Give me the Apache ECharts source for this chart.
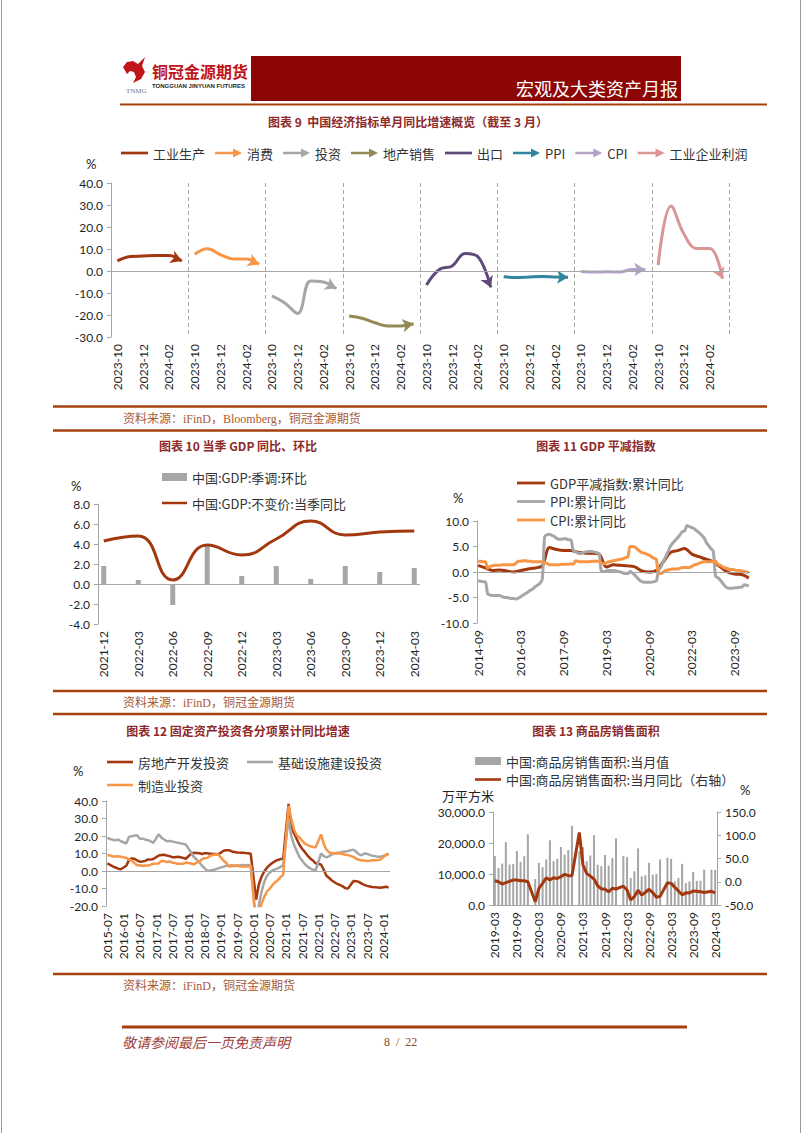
<!DOCTYPE html>
<html><head><meta charset="utf-8">
<script src="https://cdn.jsdelivr.net/npm/echarts/dist/echarts.min.js"></script>
<style>html,body{margin:0;padding:0;background:#fff}#c{width:802px;height:1133px}</style>
</head><body><div id="c"></div><script>
// ---------------- DATA ----------------
// Chart 9: single-month YoY, 2023-10 .. 2024-03, one block per indicator
const c9Months = ['2023-10','2023-11','2023-12','2024-01','2024-02','2024-03'];
const c9Names = ['工业生产','消费','投资','地产销售','出口','PPI','CPI','工业企业利润'];
const c9IP      = [4.6, 6.6, 6.8, 7.0, 7.0, 4.5];
const c9Retail  = [7.6, 10.1, 7.4, 5.5, 5.5, 3.1];
const c9FAI     = [-11.3, -14.5, -19.3, -4.5, -5.0, -8.0];
const c9Realty  = [-20.5, -21.5, -23.5, -25.0, -25.0, -24.0];
const c9Export  = [-6.4, 0.7, 2.3, 8.0, 6.5, -7.5];
const c9PPI     = [-2.6, -3.0, -2.7, -2.5, -2.7, -2.8];
const c9CPI     = [-0.2, -0.5, -0.3, -0.5, 0.7, 0.7];
const c9Profit  = [2.7, 29.5, 16.8, 10.2, 10.2, -3.5];

// Chart 10: GDP quarterly (2021-12 .. 2024-03), on a monthly axis
const c10QoQ = [1.8, 0.4, -2.1, 3.8, 0.8, 1.8, 0.5, 1.8, 1.2, 1.6];
const c10YoY = [4.3, 4.8, 0.4, 3.9, 2.9, 4.5, 6.3, 4.9, 5.2, 5.3];

// Chart 11: monthly 2014-09 .. 2024-03 ; deflator quarterly
const c11Deflator = [1.3,0.8, 0.3,0.4,0.2,0.0, 0.3,0.6,0.8,1.2, 4.8,4.4,4.2,4.2, 3.9,3.7,3.7,3.5,
  1.0,1.4,1.3,1.2, 1.0,0.2,0.0,0.3, 2.0,3.8,4.2,4.6, 3.5,3.0,2.5,2.0, 1.0,0.0,-0.4,-0.5, -1.2];
const c11PPI = [-1.7,-1.8,-1.9,-1.9,
  -4.3,-4.5,-4.6,-4.6,-4.6,-4.6,-4.8,-5.0,-5.0,-5.1,-5.2,-5.2,
  -5.3,-5.1,-4.8,-4.5,-4.2,-3.9,-3.6,-3.3,-2.9,-2.6,-2.2,-1.4,
  6.9,7.3,7.4,7.2,7.0,6.6,6.4,6.4,6.5,6.5,6.3,6.3,
  4.3,4.0,3.7,3.6,3.8,3.9,4.0,4.0,4.0,3.9,3.8,3.5,
  0.1,0.1,0.2,0.3,0.3,0.3,0.2,0.1,0.0,-0.2,-0.3,-0.3,
  0.1,-0.2,-0.6,-1.1,-1.6,-1.9,-2.0,-2.0,-2.0,-2.0,-1.9,-1.8,
  0.3,1.0,2.1,3.0,4.0,5.1,5.7,6.2,6.7,7.3,7.9,8.1,
  9.1,8.9,8.7,8.5,8.1,7.7,7.3,6.8,5.9,5.2,4.6,4.1,
  -0.8,-1.1,-1.6,-2.2,-2.8,-3.1,-3.2,-3.2,-3.1,-3.1,-3.0,-3.0,
  -2.5,-2.6,-2.7];
const c11CPI = [2.1,2.1,2.0,2.0,
  0.8,1.1,1.2,1.3,1.3,1.3,1.4,1.4,1.4,1.4,1.4,1.4,
  1.8,2.1,2.1,2.2,2.2,2.1,2.1,2.0,2.0,2.0,2.0,2.0,
  1.8,1.7,1.4,1.4,1.4,1.4,1.4,1.5,1.5,1.5,1.5,1.6,
  1.5,2.2,2.1,2.0,2.0,2.0,2.0,2.0,2.1,2.1,2.1,2.1,
  1.7,1.6,1.8,2.0,2.1,2.2,2.3,2.4,2.5,2.6,2.8,2.9,
  5.0,5.0,4.9,4.5,4.1,3.8,3.7,3.5,3.3,3.0,2.7,2.5,
  -0.3,-0.3,0.0,0.3,0.4,0.5,0.6,0.6,0.6,0.7,0.9,0.9,
  0.9,0.9,1.1,1.4,1.5,1.7,1.9,2.0,2.0,2.0,2.0,2.0,
  2.1,1.5,1.3,1.0,0.8,0.7,0.5,0.5,0.4,0.3,0.3,0.2,
  0.1,0.0,-0.1];

// Chart 12: cumulative YoY, monthly 2015-07 .. 2024-03 (no January releases)
const c12Realty = [4.3,3.5,2.6,2.0,1.3,1.0,
  null,3.0,6.2,7.2,7.0,6.1,5.3,5.4,5.8,6.6,6.5,6.9,
  null,8.9,9.1,9.3,8.8,8.5,7.9,7.9,8.1,7.8,7.5,7.0,
  null,9.9,10.4,10.3,10.2,9.7,10.2,10.1,9.9,9.7,9.7,9.5,
  null,11.6,11.8,11.9,11.2,10.9,10.6,10.5,10.5,10.3,10.2,9.9,
  null,-16.3,-7.7,-3.3,-0.3,1.9,3.4,4.6,5.6,6.3,6.8,7.0,
  null,38.3,25.6,21.6,18.3,15.0,12.7,10.9,8.8,7.2,6.0,4.4,
  null,3.7,0.7,-2.7,-4.0,-5.4,-6.4,-7.4,-8.0,-8.8,-9.8,-10.0,
  null,-5.7,-5.8,-6.2,-7.2,-7.9,-8.5,-8.8,-9.1,-9.3,-9.4,-9.6,
  null,-9.0,-9.5];
const c12Infra = [18.9,18.3,17.8,17.5,18.0,17.0,
  null,15.7,19.6,19.8,20.1,20.4,18.5,18.5,18.0,17.6,17.0,16.1,
  null,21.0,19.0,18.0,17.0,17.2,16.8,16.5,16.2,15.8,15.5,15.2,
  null,10.5,8.0,6.5,5.0,3.0,1.5,0.0,0.3,0.6,1.0,1.5,
  null,2.5,3.0,3.0,3.3,2.9,3.0,3.2,3.4,3.3,3.5,3.3,
  null,-30.3,-19.7,-11.8,-6.3,-2.7,-1.0,0.3,0.9,1.5,2.3,3.4,
  null,30.0,20.0,15.0,11.5,8.0,6.0,4.0,2.5,1.5,0.8,0.4,
  null,10.0,8.5,7.8,8.5,9.5,10.0,10.4,10.6,11.0,11.2,11.4,
  null,12.2,11.0,9.5,9.0,10.0,9.8,9.2,8.7,8.5,8.2,8.1,
  null,9.0,9.7];
const c12Mfg = [9.1,8.9,8.3,8.3,8.4,8.1,
  null,7.5,6.4,6.0,4.6,3.3,3.3,2.8,3.1,3.1,3.6,4.2,
  null,4.3,5.8,5.6,5.1,5.5,4.8,4.5,4.2,4.1,4.1,4.8,
  null,4.3,3.8,4.8,5.2,6.8,7.3,7.5,8.7,9.1,9.5,9.5,
  null,5.9,4.6,2.5,2.7,3.0,3.3,2.6,2.5,2.6,2.5,3.1,
  null,-31.5,-25.2,-18.8,-14.8,-11.7,-10.2,-8.1,-6.5,-5.3,-3.5,-2.2,
  null,37.3,29.8,23.8,20.4,19.2,17.3,15.7,14.8,14.2,13.7,13.5,
  null,20.9,15.6,12.2,10.6,10.4,9.9,10.0,10.1,9.7,9.3,9.1,
  null,8.1,7.0,6.4,6.0,6.0,5.7,5.9,6.2,6.2,6.3,6.5,
  null,9.4,9.9];

// Chart 13: monthly 2019-03 .. 2024-03
const c13Area = [15760,11960,13370,20330,13040,13260,17390,13910,15760,22830,
  null,8370,13590,12170,14670,20870,14130,14890,18700,16300,17720,25540,
  null,17360,18650,14130,16000,22500,13000,12500,16090,12700,15200,21520,
  null,15760,15430,8700,10870,18260,9240,9570,13590,9780,10000,14670,
  null,15220,14890,7610,8700,13260,7070,7610,10650,7830,7830,11410,
  null,11370,11300];
const c13YoY = [2.2,0.0,-5.0,-2.0,1.0,3.6,3.6,2.0,2.0,0.0,
  null,-43.0,-14.5,-3.6,8.7,3.6,8.7,7.0,10.9,16.0,13.0,13.0,
  null,106.0,36.0,18.0,12.0,6.0,-8.6,-15.5,-15.8,-21.7,-14.0,-15.6,
  null,-9.6,-17.7,-39.0,-31.8,-18.3,-28.9,-22.6,-16.2,-23.2,-33.3,-31.5,
  null,-2.0,-3.5,-11.8,-19.7,-28.1,-23.8,-24.0,-19.8,-20.2,-21.3,-23.0,
  null,-20.5,-23.7];

// ---------------- HELPERS ----------------
function monthsFrom(y, m, n){const o=[];for(let i=0;i<n;i++){const yy=y+Math.floor((m-1+i)/12);const mm=(m-1+i)%12+1;o.push(yy+'-'+String(mm).padStart(2,'0'));}return o;}
function spread(arr, step, n){const o=new Array(n).fill(null);arr.forEach((v,i)=>{o[i*step]=v;});return o;}
const cats9 = []; c9Names.forEach(()=>c9Months.forEach(m=>cats9.push(m)));
const cats10 = monthsFrom(2021,12,28);
const cats11 = monthsFrom(2014,9,115);
const cats12 = monthsFrom(2015,7,105);
const cats13 = monthsFrom(2019,3,61);

const RUST='#A3380F', ORANGE='#F79646', GRAY='#A6A6A6', OLIVE='#948A54', PURPLE='#604A7B',
      TEAL='#31859C', LAV='#B3A2C7', PINK='#D99694', AX='#A6A6A6', TXT='#1f1f1f';
const NUMF='Lato, "Noto Sans", sans-serif';
const CJK='"Noto Sans CJK SC", sans-serif';
const LINE_ICON='path://M0,0L30,0L30,3L0,3Z';
const ARROW_ICON='path://M0,3.6L20,3.6L20,0L30,5L20,10L20,6.4L0,6.4Z';
const zeroLine = {silent:true, symbol:['none','none'], label:{show:false}, lineStyle:{color:AX,type:'solid',width:1}, emphasis:{disabled:true}, data:[{yAxis:0}]};

function catAxis(grid, data, interval, extra){
  return Object.assign({gridIndex:grid, type:'category', data, boundaryGap:true,
    axisLine:{show:false}, axisTick:{show:false}, splitLine:{show:false},
    axisLabel:{interval, rotate:90, fontSize:12, color:TXT, fontFamily:NUMF, margin:7}}, extra||{});
}
function valAxis(grid, min, max, interval, fmt, extra){
  return Object.assign({gridIndex:grid, type:'value', min, max, interval,
    axisLine:{show:true, lineStyle:{color:AX}}, axisTick:{show:true, length:4, lineStyle:{color:AX}},
    splitLine:{show:false},
    axisLabel:{formatter:fmt||(v=>v.toFixed(1)), fontSize:12, color:TXT, fontFamily:NUMF, margin:8}}, extra||{});
}
function legendBase(o){
  return Object.assign({selectedMode:false, itemGap:10, itemWidth:27, itemHeight:10, padding:0,
    itemStyle:{borderWidth:0}, textStyle:{fontSize:13, lineHeight:16, color:'#333', fontFamily:CJK}}, o);
}

// ---------------- CHART 9 series ----------------
const c9Vals=[c9IP,c9Retail,c9FAI,c9Realty,c9Export,c9PPI,c9CPI,c9Profit];
const c9Colors=[RUST,ORANGE,GRAY,OLIVE,PURPLE,TEAL,LAV,PINK];
const c9Icons=[LINE_ICON,ARROW_ICON,ARROW_ICON,ARROW_ICON,LINE_ICON,ARROW_ICON,ARROW_ICON,ARROW_ICON];
function c9Data(g, rot){
  const d=new Array(48).fill(null);
  c9Vals[g].forEach((v,i)=>{d[g*6+i]=v;});
  const last=g*6+5;
  d[last]={value:c9Vals[g][5], symbol:'arrow', symbolSize:[10,11], symbolRotate:rot||0};
  return d;
}
const series=[];
c9Names.forEach((n,g)=>{
  series.push({type:'line', name:n, xAxisIndex:0, yAxisIndex:0, data:c9Data(g,-90), smooth:0.4,
    symbol:'none', showSymbol:true, showAllSymbol:true, connectNulls:false,
    lineStyle:{width:3,color:c9Colors[g]}, itemStyle:{color:c9Colors[g]}, emphasis:{disabled:true},
    markLine: g===0?zeroLine:undefined, z:3});
});
// ---------------- CHART 10 ----------------
series.push({type:'bar', name:'中国:GDP:季调:环比', xAxisIndex:2, yAxisIndex:1, data:spread(c10QoQ,3,28),
  barWidth:5, itemStyle:{color:GRAY}, emphasis:{disabled:true}, markLine:zeroLine});
series.push({type:'line', name:'中国:GDP:不变价:当季同比', xAxisIndex:2, yAxisIndex:1, data:spread(c10YoY,3,28),
  connectNulls:true, smooth:0.5, symbol:'none', lineStyle:{width:3,color:RUST}, itemStyle:{color:RUST}, emphasis:{disabled:true}});
// ---------------- CHART 11 ----------------
series.push({type:'line', name:'GDP平减指数:累计同比', xAxisIndex:3, yAxisIndex:2, data:spread(c11Deflator,3,115),
  connectNulls:true, smooth:0.3, symbol:'none', lineStyle:{width:3,color:RUST}, itemStyle:{color:RUST}, emphasis:{disabled:true}, markLine:zeroLine});
series.push({type:'line', name:'PPI:累计同比', xAxisIndex:3, yAxisIndex:2, data:c11PPI,
  smooth:0.3, symbol:'none', lineStyle:{width:3,color:GRAY}, itemStyle:{color:GRAY}, emphasis:{disabled:true}});
series.push({type:'line', name:'CPI:累计同比', xAxisIndex:3, yAxisIndex:2, data:c11CPI,
  smooth:0.3, symbol:'none', lineStyle:{width:3,color:ORANGE}, itemStyle:{color:ORANGE}, emphasis:{disabled:true}});
// ---------------- CHART 12 ----------------
series.push({type:'line', name:'房地产开发投资', xAxisIndex:4, yAxisIndex:3, data:c12Realty, connectNulls:true,
  symbol:'none', lineStyle:{width:2.5,color:RUST}, itemStyle:{color:RUST}, emphasis:{disabled:true}, markLine:zeroLine});
series.push({type:'line', name:'基础设施建设投资', xAxisIndex:4, yAxisIndex:3, data:c12Infra, connectNulls:true,
  symbol:'none', lineStyle:{width:2.5,color:GRAY}, itemStyle:{color:GRAY}, emphasis:{disabled:true}});
series.push({type:'line', name:'制造业投资', xAxisIndex:4, yAxisIndex:3, data:c12Mfg, connectNulls:true,
  symbol:'none', lineStyle:{width:2.5,color:ORANGE}, itemStyle:{color:ORANGE}, emphasis:{disabled:true}});
// ---------------- CHART 13 ----------------
series.push({type:'bar', name:'中国:商品房销售面积:当月值', xAxisIndex:5, yAxisIndex:4, data:c13Area,
  barWidth:2, itemStyle:{color:GRAY}, emphasis:{disabled:true}});
series.push({type:'line', name:'中国:商品房销售面积:当月同比（右轴）', xAxisIndex:5, yAxisIndex:5, data:c13YoY,
  connectNulls:true, symbol:'none', lineStyle:{width:3,color:RUST}, itemStyle:{color:RUST}, emphasis:{disabled:true}, z:3});

// ---------------- GRAPHICS (page furniture) ----------------
function T(x,y,text,o){return {type:'text', x, y, silent:true, style:Object.assign({text, fill:'#222', fontSize:13, fontFamily:CJK, align:'left', verticalAlign:'middle'}, o||{})};}
function L(x1,y1,x2,y2,stroke,w){return {type:'line', silent:true, shape:{x1,y1,x2,y2}, style:{stroke, lineWidth:w}};}
const SEP='#A4410E', TITLE='#8E2A2A', SRC='#A85A36';
const graphics=[
  L(1.5,0,1.5,1133,'#9a9a9a',1), L(800.5,0,800.5,1133,'#9a9a9a',1),
  // header
  {type:'polygon', silent:true, shape:{points:[[123,67],[127,62],[133,61],[138,64],[145,57],[142,66],[145,72],[141,79],[133,83],[136,77],[134,72],[130,71],[127,74]]}, style:{fill:'#C0141A'}},
  T(152,71,'铜冠金源期货',{fill:'#C0141A', fontSize:16, fontWeight:'bold', fontFamily:'"Noto Sans CJK SC", serif'}),
  T(152,86,'TONGGUAN JINYUAN FUTURES',{fill:'#222', fontSize:6, fontWeight:'bold', fontFamily:'"Liberation Sans", sans-serif'}),
  T(126,91,'TNMG',{fill:'#777', fontSize:7, fontFamily:'"Liberation Serif", serif'}),
  {type:'rect', silent:true, shape:{x:251,y:56,width:430,height:45}, style:{fill:'#8C0606'}},
  T(678,88,'宏观及大类资产月报',{fill:'#fff', fontSize:18, align:'right', fontFamily:CJK}),
  L(120,104.5,767,104.5,SEP,2),
  // chart 9
  T(408,121,'图表 9  中国经济指标单月同比增速概览（截至 3 月）',{fill:TITLE, fontSize:12, fontWeight:'bold', align:'center'}),
  T(86,164,'%',{fontFamily:NUMF}),
  L(53,406.5,767,406.5,SEP,2.5),
  T(123,419,'资料来源：iFinD，Bloomberg，铜冠金源期货',{fill:SRC, fontSize:12, fontFamily:'"Liberation Serif", "Noto Sans CJK SC", serif'}),
  L(53,430.5,767,430.5,SEP,2.5),
  // charts 10/11
  T(238,445,'图表 10 当季 GDP 同比、环比',{fill:TITLE, fontSize:12, fontWeight:'bold', align:'center'}),
  T(596,445,'图表 11 GDP 平减指数',{fill:TITLE, fontSize:12, fontWeight:'bold', align:'center'}),
  T(71,486,'%',{fontFamily:NUMF}),
  T(453,498,'%',{fontFamily:NUMF}),
  L(53,691,767,691,SEP,2.5),
  T(123,703,'资料来源：iFinD，铜冠金源期货',{fill:SRC, fontSize:12, fontFamily:'"Liberation Serif", "Noto Sans CJK SC", serif'}),
  L(53,714,767,714,SEP,2.5),
  // charts 12/13
  T(238,730,'图表 12 固定资产投资各分项累计同比增速',{fill:TITLE, fontSize:12, fontWeight:'bold', align:'center'}),
  T(596,730,'图表 13 商品房销售面积',{fill:TITLE, fontSize:12, fontWeight:'bold', align:'center'}),
  T(73,771,'%',{fontFamily:NUMF}),
  T(442,795,'万平方米',{fontSize:13}),
  T(740,790,'%',{fontFamily:NUMF}),
  L(53,974,767,974,SEP,2.5),
  T(123,986,'资料来源：iFinD，铜冠金源期货',{fill:SRC, fontSize:12, fontFamily:'"Liberation Serif", "Noto Sans CJK SC", serif'}),
  // footer
  L(122,1027,687,1027,SEP,3),
  T(122,1042,'敬请参阅最后一页免责声明',{fill:'#9B3B3B', fontSize:14, fontStyle:'italic'}),
  T(384,1042,'8  /  22',{fill:'#8B4A2B', fontSize:12, fontFamily:'"Liberation Serif", serif'})
];

// ---------------- OPTION ----------------
const option={
  animation:false,
  backgroundColor:'#fff',
  grid:[
    {left:111, top:183, width:618, height:154, outerBoundsMode:'none'},
    {left:98, top:504, width:322, height:120, outerBoundsMode:'none'},
    {left:477, top:521, width:273, height:102, outerBoundsMode:'none'},
    {left:106, top:801, width:284, height:105, outerBoundsMode:'none'},
    {left:493, top:812, width:224, height:93, outerBoundsMode:'none'}
  ],
  xAxis:[
    catAxis(0, cats9, (i)=>i%2===0),
    {gridIndex:0, type:'value', min:0, max:8, interval:1, position:'top', axisLine:{show:false}, axisTick:{show:false}, axisLabel:{show:false},
      splitLine:{show:true, lineStyle:{color:AX, type:[4,3], width:1}}},
    catAxis(1, cats10, 2),
    catAxis(2, cats11, 17),
    catAxis(3, cats12, 5),
    catAxis(4, cats13, 5, {axisLine:{show:true, lineStyle:{color:AX}}})
  ],
  yAxis:[
    valAxis(0,-30,40,10),
    valAxis(1,-4,8,2),
    valAxis(2,-10,10,5),
    valAxis(3,-20,40,10),
    valAxis(4,0,30000,10000, v=>v.toLocaleString('en-US',{minimumFractionDigits:1,maximumFractionDigits:1})),
    valAxis(4,-50,150,50, null, {position:'right'})
  ],
  legend:[
    legendBase({left:121, top:145, data:c9Names.map((n,i)=>({name:n, icon:c9Icons[i]}))}),
    legendBase({orient:'vertical', left:162, top:469, itemWidth:25, itemHeight:8, itemGap:10,
      data:[{name:'中国:GDP:季调:环比', icon:'rect'},{name:'中国:GDP:不变价:当季同比', icon:LINE_ICON}]}),
    legendBase({orient:'vertical', left:517, top:475, itemWidth:28, itemHeight:8, itemGap:2.5,
      data:[{name:'GDP平减指数:累计同比',icon:LINE_ICON},{name:'PPI:累计同比',icon:LINE_ICON},{name:'CPI:累计同比',icon:LINE_ICON}]}),
    legendBase({left:107, top:754, itemWidth:26, itemHeight:8, itemGap:18,
      data:[{name:'房地产开发投资',icon:LINE_ICON},{name:'基础设施建设投资',icon:LINE_ICON}]}),
    legendBase({left:107, top:777, itemWidth:26, itemHeight:8,
      data:[{name:'制造业投资',icon:LINE_ICON}]}),
    legendBase({orient:'vertical', left:475, top:753, itemWidth:26, itemHeight:8, itemGap:2.5,
      data:[{name:'中国:商品房销售面积:当月值',icon:'rect'},{name:'中国:商品房销售面积:当月同比（右轴）',icon:LINE_ICON}]})
  ],
  graphic:graphics,
  series
};
const chart=echarts.init(document.getElementById('c'), null, {renderer:'svg', width:802, height:1133});
chart.setOption(option);
// rotate the arrowheads along the final segment of each block
const upd=c9Names.map((n,g)=>{
  const a=g*6+4, b=g*6+5;
  const p1=chart.convertToPixel({xAxisIndex:0,yAxisIndex:0},[a,c9Vals[g][4]]);
  const p2=chart.convertToPixel({xAxisIndex:0,yAxisIndex:0},[b,c9Vals[g][5]]);
  const ang=Math.atan2(-(p2[1]-p1[1]), p2[0]-p1[0])*180/Math.PI;
  return {data:c9Data(g, ang-90)};
});
chart.setOption({series:upd});
</script></body></html>
